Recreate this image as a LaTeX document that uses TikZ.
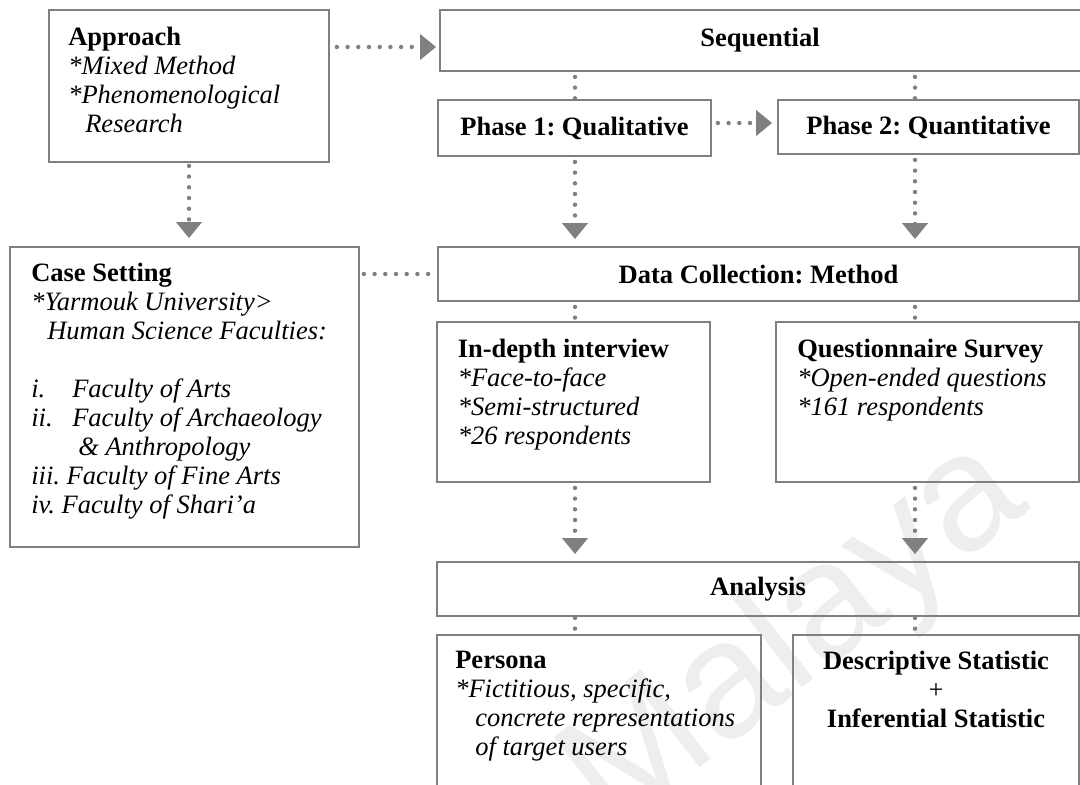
\documentclass[tikz,border=0pt]{standalone}
\usepackage{fontspec}
\setmainfont{Liberation Serif}
\newfontfamily\wmfont{Liberation Sans}
\usepackage{tikz}
\usetikzlibrary{arrows.meta,positioning}
\definecolor{boxgrey}{RGB}{128,128,128}
\definecolor{dotgrey}{RGB}{128,128,128}
\definecolor{wmgrey}{RGB}{238,238,238}
\frenchspacing

\begin{document}
\begin{tikzpicture}[x=1pt,y=-1pt,font=\fontsize{26.5}{29}\selectfont,
    box/.style={draw=boxgrey,line width=1.8pt,inner sep=0pt},
    txt/.style={align=left,inner sep=0pt},
    flow/.style={dotgrey,line width=4.4pt,line cap=round,dash pattern=on 0pt off 10.7pt,
                 shorten <=5pt},
    flowarrow/.style={flow,-{Triangle[length=16pt,width=25pt]},shorten >=7pt}]
    \path[use as bounding box,fill=white] (0,0) rectangle (1080,785);
    \clip (0,0) rectangle (1080,785);
    \node[anchor=base west,rotate=38,inner sep=0pt,text=wmgrey,
          font=\wmfont\fontsize{165}{165}\selectfont] (wm) at (613,836) {Malaya};
    % boxes
    \node[box,minimum width=280pt,minimum height=152pt] (app) at (189,86) {};
    \node[box,minimum width=644pt,minimum height=61pt] (seq) at (762,40.5) {};
    \node[inner sep=0pt] (seqt) at (760,40.5) {\textbf{Sequential}};
    \node[box,minimum width=273pt,minimum height=56pt] (ph1) at (574.5,128) {\textbf{Phase 1: Qualitative}};
    \node[box,minimum width=301pt,minimum height=54pt] (ph2) at (928.5,127) {\textbf{Phase 2: Quantitative}};
    \node[box,minimum width=349pt,minimum height=300pt] (case) at (184.5,397) {};
    \node[box,minimum width=641pt,minimum height=54pt] (dc) at (758.5,274) {\textbf{Data Collection: Method}};
    \node[box,minimum width=273pt,minimum height=160pt] (ind) at (573.5,402) {};
    \node[box,minimum width=303pt,minimum height=160pt] (qs) at (927.5,402) {};
    \node[box,minimum width=642pt,minimum height=54pt] (ana) at (758,589) {\textbf{Analysis}};
    \node[box,minimum width=324pt,minimum height=170pt] (per) at (599,720) {};
    \node[box,minimum width=286pt,minimum height=170pt] (des) at (936,720) {};
    % texts
    \node[txt,below right=18pt and 20pt of app.north west] (appt)
      {\textbf{Approach}\\\textit{*Mixed Method}\\\textit{*Phenomenological}\\\textit{\hspace*{17pt}Research}};
    \node[txt,below right=17pt and 22pt of case.north west] (caset)
      {\textbf{Case Setting}\\
       \textit{*Yarmouk University>}\\
       \textit{\hspace*{16pt}Human Science Faculties:}\\[29pt]
       \textit{\makebox[41pt][l]{i.}Faculty of Arts}\\
       \textit{\makebox[41pt][l]{ii.}Faculty of Archaeology}\\
       \textit{\hspace*{47pt}\& Anthropology}\\
       \textit{iii. Faculty of Fine Arts}\\
       \textit{iv. Faculty of Shari’a}};
    \node[txt,below right=18pt and 21.5pt of ind.north west] (indt)
      {\textbf{In-depth interview}\\\textit{*Face-to-face}\\\textit{*Semi-structured}\\\textit{*26 respondents}};
    \node[txt,below right=18pt and 22pt of qs.north west] (qst)
      {\textbf{Questionnaire Survey}\\\textit{*Open-ended questions}\\\textit{*161 respondents}};
    \node[txt,below right=17pt and 19pt of per.north west] (pert)
      {\textbf{Persona}\\\textit{*Fictitious, specific,}\\\textit{\hspace*{20pt}concrete representations}\\\textit{\hspace*{20pt}of target users}};
    \node[txt,align=center,below=17pt of des.north] (dest)
      {\textbf{Descriptive Statistic}\\+\\\textbf{Inferential Statistic}};
    % connectors
    \coordinate (lx) at (575,0);
    \coordinate (rx) at (915,0);
    \coordinate (seqin) at ([yshift=-6.5pt]seq.west);
    \coordinate (p1out) at ([yshift=5pt]ph1.east);
    \draw[flowarrow,shorten <=7pt,shorten >=3pt] (app.east |- seqin) -- (seqin);
    \draw[flowarrow,shorten <=6pt,shorten >=5pt] (p1out) -- (p1out -| ph2.west);
    \draw[flowarrow,shorten <=3pt,shorten >=8pt] (app.south) -- (app.south |- case.north);
    \draw[flow,shorten <=4pt] (case.east |- dc.west) -- (dc.west);
    \foreach \c/\p/\q/\r in {lx/ph1/ind/per,rx/ph2/qs/des}{
      \draw[flow] (seq.south -| \c) -- (\p.north -| \c);
      \draw[flowarrow] (\p.south -| \c) -- (dc.north -| \c);
      \draw[flow] (dc.south -| \c) -- (\q.north -| \c);
      \draw[flowarrow] (\q.south -| \c) -- (ana.north -| \c);
      \draw[flow,shorten <=1pt] (ana.south -| \c) -- (\r.north -| \c);}
\end{tikzpicture}
\end{document}
